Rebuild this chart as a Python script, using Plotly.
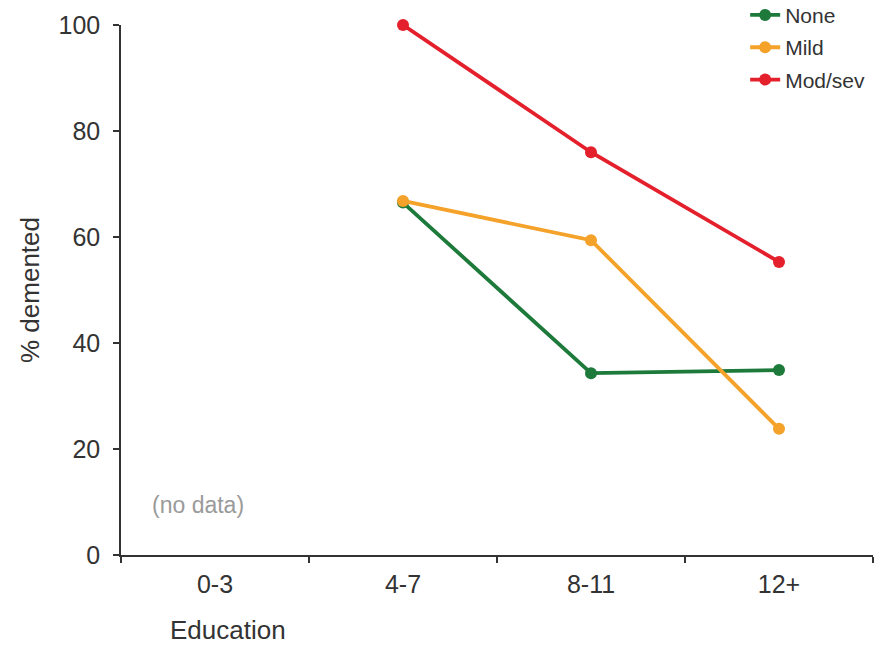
import plotly.graph_objects as go

education = ["0-3", "4-7", "8-11", "12+"]
none_vals = [None, 66.5, 34.3, 34.9]
mild_vals = [None, 66.8, 59.4, 23.8]
modsev_vals = [None, 100.0, 76.0, 55.3]
y_ticks = [0, 20, 40, 60, 80, 100]

series = [
    ("None", none_vals, "#1d7a3b"),
    ("Mild", mild_vals, "#f4a229"),
    ("Mod/sev", modsev_vals, "#e3202b"),
]

FONT = "Liberation Sans, Arial, sans-serif"
INK = "#333333"

fig = go.Figure()
for name, vals, color in series:
    fig.add_trace(go.Scatter(
        x=education, y=vals, name=name, mode="lines+markers",
        legendgroup=name,
        line=dict(color=color, width=3.8),
        marker=dict(color=color, size=12),
        cliponaxis=False,
    ))

fig.add_annotation(x="0-3", y=9.4, text="(no data)", showarrow=False,
                   xref="x", yref="y", xshift=-17,
                   font=dict(family=FONT, size=23, color="#9a9a9a"))
fig.add_annotation(x=0.142, y=-0.1415, xref="paper", yref="paper",
                   text="Education", showarrow=False, xanchor="center", yanchor="middle",
                   font=dict(family=FONT, size=26, color=INK))

fig.update_layout(
    width=886, height=646,
    margin=dict(l=121, r=13, t=25, b=91, autoexpand=False),
    plot_bgcolor="white", paper_bgcolor="white",
    font=dict(family=FONT, size=25, color=INK),
    showlegend=True,
    hovermode=False,
    legend=dict(x=0.830, y=1.057, xref="paper", yref="paper",
                xanchor="left", yanchor="top",
                font=dict(family=FONT, size=21, color=INK),
                tracegroupgap=2, bgcolor="rgba(0,0,0,0)"),
    xaxis=dict(
        type="category", categoryorder="array", categoryarray=education,
        range=[-0.5, 3.5], tickson="boundaries", ticks="outside", ticklen=6,
        tickcolor=INK, tickwidth=1.5, ticklabelstandoff=6,
        showline=True, linecolor=INK, linewidth=1.5,
        showgrid=False, zeroline=False,
        tickfont=dict(size=25, color=INK),
    ),
    yaxis=dict(
        range=[0, 100], tickvals=y_ticks, ticks="outside", ticklen=6,
        tickcolor=INK, tickwidth=1.5, ticklabelstandoff=8,
        showline=True, linecolor=INK, linewidth=1.5,
        showgrid=False, zeroline=False,
        title=dict(text="% demented", font=dict(size=26, color=INK), standoff=11),
        tickfont=dict(size=25, color=INK),
    ),
)

fig.write_html(
    "out.html",
    config={"displayModeBar": False},
    post_script="document.body.style.margin='0px';document.body.style.overflow='hidden';",
)
